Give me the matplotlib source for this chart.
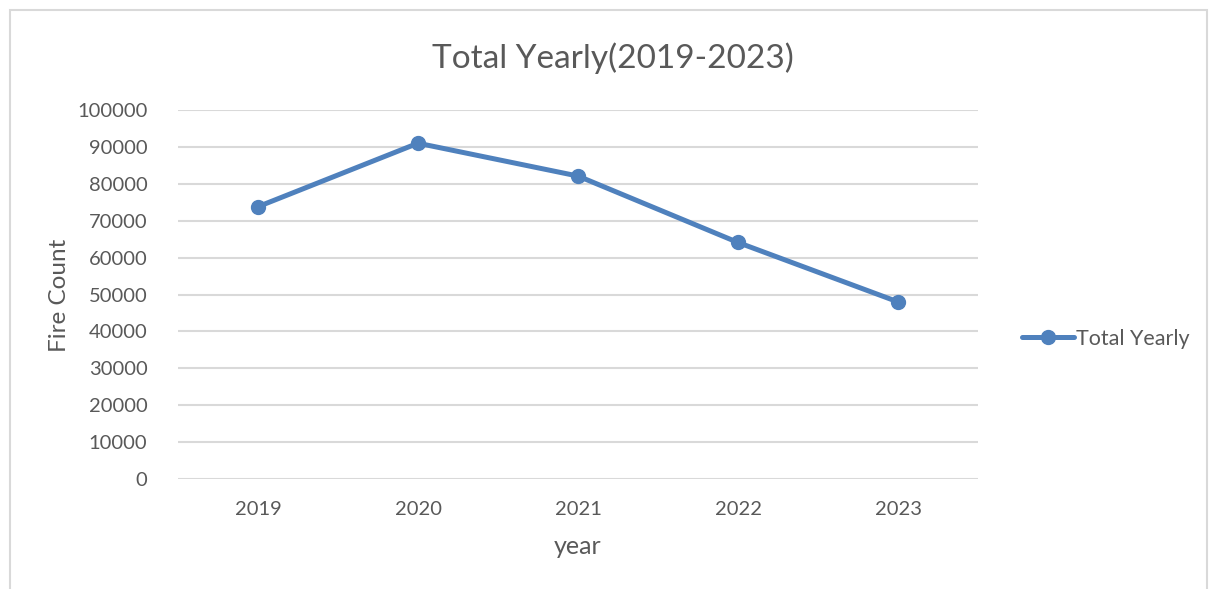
import matplotlib
matplotlib.use("Agg")
import matplotlib.pyplot as plt
from matplotlib.patches import Rectangle

# Datos
years = ["2019", "2020", "2021", "2022", "2023"]
fire_count = [73800, 91000, 82100, 64100, 48000]
y_ticks = list(range(0, 100001, 10000))

plt.rcParams['font.family'] = ['Lato', 'DejaVu Sans']
GRIS = '#595959'
AZUL = '#4f81bd'

fig = plt.figure(figsize=(12.16, 5.89), dpi=100)
ax = fig.add_axes([178 / 1216, 1 - 479 / 589, 800 / 1216, 369 / 589])

# borde del area del grafico (estilo Excel)
fig.patches.append(Rectangle((10 / 1216, -0.1), 1197 / 1216, 1.1 - 10 / 589,
                             transform=fig.transFigure, fill=False,
                             edgecolor='#d9d9d9', linewidth=1.5))

x = list(range(len(years)))
ax.plot(x, fire_count, color=AZUL, linewidth=3.6, marker='o', markersize=10,
        label='Total Yearly', solid_capstyle='round', zorder=3)

ax.set_xlim(-0.5, len(years) - 0.5)
ax.set_ylim(0, 100000)
ax.set_yticks(y_ticks)
ax.set_yticklabels([str(v) for v in y_ticks])
ax.set_xticks(x)
ax.set_xticklabels(years)
ax.tick_params(axis='both', length=0, labelsize=14.5, labelcolor=GRIS)
ax.tick_params(axis='y', pad=22)
ax.tick_params(axis='x', pad=16)

ax.grid(axis='y', color='#d9d9d9', linewidth=1.5)
ax.set_axisbelow(True)
for s in ax.spines.values():
    s.set_visible(False)

fig.text(613 / 1216, 1 - 58 / 589, 'Total Yearly(2019-2023)', fontsize=24,
         color=GRIS, ha='center', va='center')
ax.set_xlabel('year', fontsize=18, color=GRIS, labelpad=12)
fig.text(60 / 1216, 1 - 295 / 589, 'Fire Count', fontsize=17.5, color=GRIS,
         rotation=90, ha='center', va='center')

fig.legend(loc='center left', bbox_to_anchor=(1003 / 1216, 1 - 339 / 589),
           frameon=False, fontsize=15.5, labelcolor=GRIS, handlelength=2.4,
           handletextpad=0.1)

fig.savefig('out.png', dpi=100, facecolor='white')
